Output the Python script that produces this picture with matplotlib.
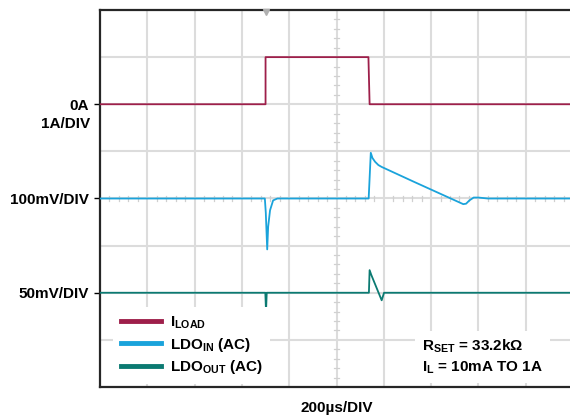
import numpy as np
import matplotlib
matplotlib.use("Agg")
import matplotlib.pyplot as plt
from matplotlib.transforms import blended_transform_factory

plt.rcParams["font.family"] = ["Liberation Sans", "DejaVu Sans"]
plt.rcParams["font.weight"] = "bold"
plt.rcParams["mathtext.fontset"] = "custom"
plt.rcParams["mathtext.rm"] = "Liberation Sans:bold"
plt.rcParams["mathtext.it"] = "Liberation Sans:bold"
plt.rcParams["mathtext.bf"] = "Liberation Sans:bold"

# -------------------- Scope data (time in µs) --------------------
t_load = [0, 700, 700, 1135, 1140, 1988]
i_load = [0, 0, 1, 1, 0, 0]                       # A

t_in = [0, 697, 701, 707, 711, 719, 732, 750, 1136, 1145, 1152, 1163, 1177, 1191,
        1325, 1536, 1548, 1562, 1580, 1600, 1640, 1988]
v_in = [0, 0, -30, -108, -60, -25, -4, 0, 0, 97, 86, 78, 71, 67,
        36, -12, -11, -4, 2, 2, 0, 0]             # mV (AC)

t_out = [0, 699, 702, 705, 1137, 1140, 1147, 1191, 1201, 1988]
v_out = [0, 0, -20, 0, 0, 24, 19, -8, 0, 0]       # mV (AC)

# channel scale (per div) and screen offset (div)
SCALE_LOAD, OFF_LOAD = 1.0, 6
SCALE_IN, OFF_IN = 100.0, 4
SCALE_OUT, OFF_OUT = 50.0, 2

TIME_DIV = 200
N_XDIV, N_YDIV = 10, 8

COL_LOAD = "#9E1F4A"
COL_IN = "#1AA3DB"
COL_OUT = "#0B7A72"
COL_GRID = "#DCDCDC"

# -------------------- Figure --------------------
fig = plt.figure(figsize=(5.70, 4.19), dpi=100)
ax = fig.add_axes([100 / 570, 32 / 419, 470 / 570, 377 / 419])
ax.set_xlim(0, 470 / 47.3 * TIME_DIV)
ax.set_ylim(0, N_YDIV)

# grid
for k in range(1, N_XDIV):
    ax.axvline(k * TIME_DIV, color=COL_GRID, lw=1.5, zorder=0)
for k in range(1, N_YDIV):
    ax.axhline(k, color=COL_GRID, lw=1.5, zorder=0)

# center axis minor ticks
xc = N_XDIV / 2 * TIME_DIV
for yy in np.arange(0, N_YDIV, 0.2):
    if abs(yy - round(yy)) > 1e-6:
        ax.plot([xc - 11, xc + 11], [yy, yy], color="#D0D0D0", lw=0.9, zorder=0)
for xx in np.arange(0, N_XDIV * TIME_DIV, TIME_DIV / 5):
    if abs(xx / TIME_DIV - round(xx / TIME_DIV)) > 1e-6:
        ax.plot([xx, xx], [N_YDIV / 2 - 0.06, N_YDIV / 2 + 0.06], color="#D0D0D0", lw=0.9, zorder=0)

# traces
ax.plot(t_load, OFF_LOAD + np.array(i_load) / SCALE_LOAD, color=COL_LOAD, lw=1.3, label="I$_{LOAD}$", zorder=3)
ax.plot(t_in, OFF_IN + np.array(v_in) / SCALE_IN, color=COL_IN, lw=1.3, label="LDO$_{IN}$ (AC)", zorder=3)
ax.plot(t_out, OFF_OUT + np.array(v_out) / SCALE_OUT, color=COL_OUT, lw=1.3, label="LDO$_{OUT}$ (AC)", zorder=3)

# trigger marker
ax.plot([700], [N_YDIV - 0.05], marker="v", ms=4, color="#B0B0B0", clip_on=False, zorder=4)

# spines
ax.spines["right"].set_visible(False)
for s in ["left", "bottom", "top"]:
    ax.spines[s].set_color("#262626")
    ax.spines[s].set_linewidth(1.6)

# channel labels
ax.set_xticks([])
ax.set_yticks([OFF_LOAD, OFF_IN, OFF_OUT])
ax.set_yticklabels(["0A", "100mV/DIV", "50mV/DIV"], fontsize=11, fontweight="bold")
ax.tick_params(axis="y", length=4, width=1, pad=4)
for tk, c in zip(ax.yaxis.get_major_ticks(), [COL_LOAD, COL_IN, COL_OUT]):
    tk.tick1line.set_color(c)

tr = blended_transform_factory(ax.transAxes, ax.transData)
ax.text(-10 / 470, OFF_LOAD - 0.42, "1A/DIV", transform=tr, ha="right", va="center",
        fontsize=11, fontweight="bold")

ax.text(xc, -21 / 377, "200µs/DIV", transform=blended_transform_factory(ax.transData, ax.transAxes),
        ha="center", va="center", fontsize=11, fontweight="bold")

# legend
leg = ax.legend(loc="lower left", bbox_to_anchor=(0.012, -0.012), fontsize=11, frameon=True,
                framealpha=1, edgecolor="none", facecolor="white", handlelength=2.6,
                handletextpad=0.6, labelspacing=0.3, borderpad=0.5, fancybox=False)
for ln in leg.get_lines():
    ln.set_linewidth(3.5)
leg.set_zorder(5)

# conditions
ax.text((422 - 100) / 47.3 * TIME_DIV, 0.64,
        "R$_{SET}$ = 33.2kΩ\nI$_L$ = 10mA TO 1A", ha="left", va="center", fontsize=11,
        fontweight="bold", linespacing=1.35, zorder=5,
        bbox=dict(boxstyle="square,pad=0.45", fc="white", ec="none"))

fig.savefig("out.png", dpi=100)
